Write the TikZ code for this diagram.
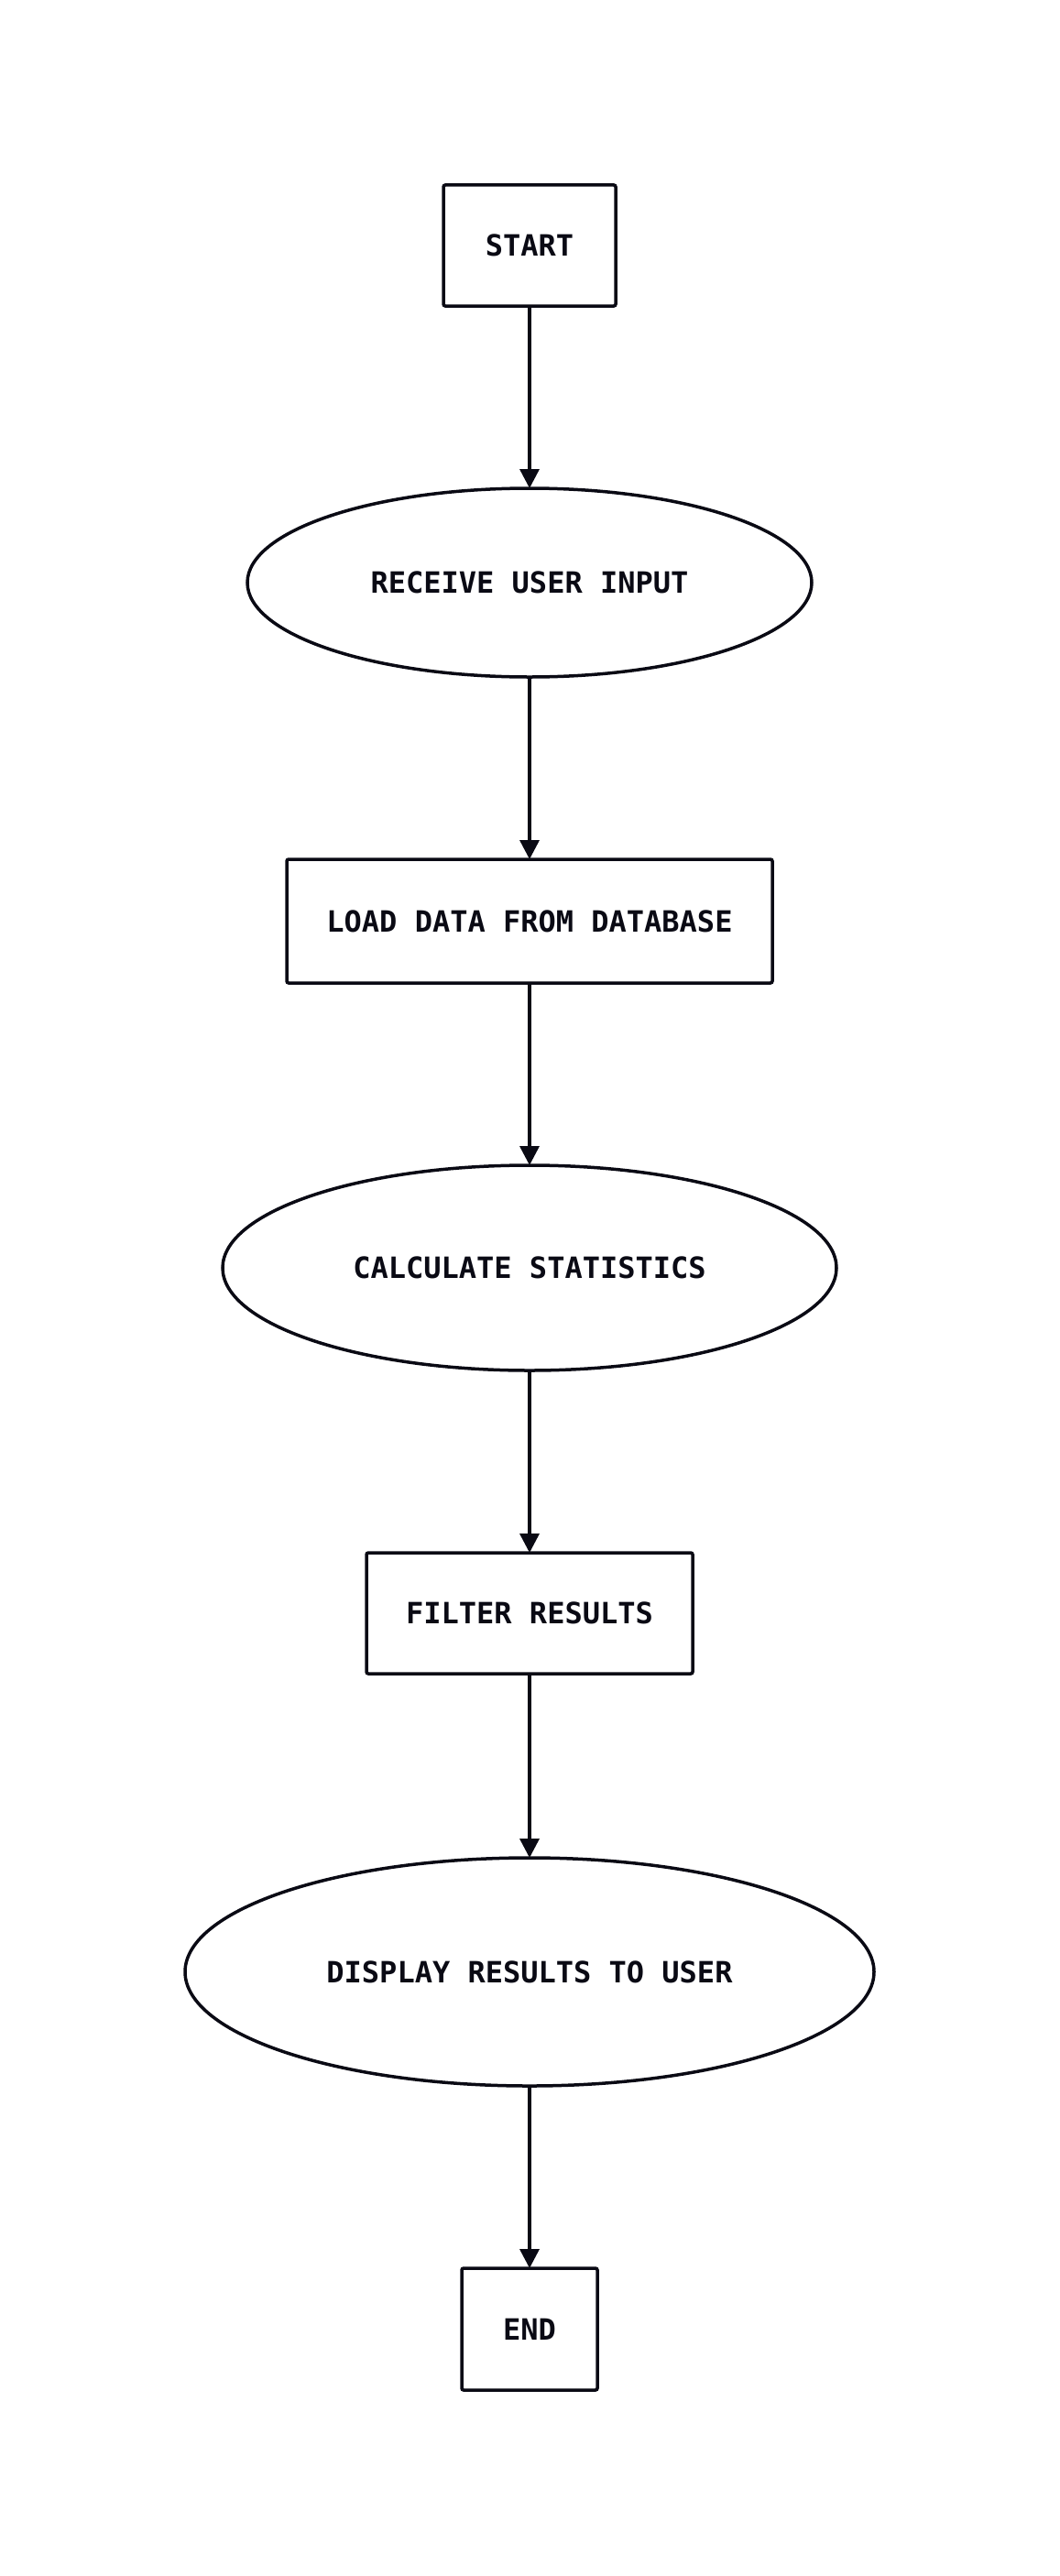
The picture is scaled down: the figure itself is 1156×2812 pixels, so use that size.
\documentclass[tikz,border=0pt]{standalone}
\usepackage{fontspec}
\newfontfamily\flowfont{DejaVu Sans Mono}
\usetikzlibrary{shapes.geometric,arrows.meta}
\definecolor{ink}{HTML}{0A0A14}
\tikzset{
  base/.style={draw=ink, line width=3.5pt, inner sep=0pt, outer sep=0pt, text=ink,
    font=\flowfont\bfseries\fontsize{32}{36}\selectfont},
  boxnode/.style={base, rectangle, rounded corners=2pt},
  ovalnode/.style={base, ellipse},
  flow/.style={draw=ink, line width=3.5pt, -{Triangle[length=21pt,width=21pt]}}
}
\begin{document}
\begin{tikzpicture}[x=1pt,y=-1pt]
\useasboundingbox (0,0) rectangle (1156,2812);
\node[boxnode, minimum width=188pt, minimum height=132pt] (start) at (578,268) {START};
\node[ovalnode, minimum width=616pt, minimum height=206pt] (recv) at (578,636) {RECEIVE USER INPUT};
\node[boxnode, minimum width=530pt, minimum height=135pt] (load) at (578,1005.5) {LOAD DATA FROM DATABASE};
\node[ovalnode, minimum width=670pt, minimum height=224pt] (calc) at (578,1384) {CALCULATE STATISTICS};
\node[boxnode, minimum width=356pt, minimum height=132pt] (filt) at (578,1761) {FILTER RESULTS};
\node[ovalnode, minimum width=752pt, minimum height=249pt] (disp) at (578,2152.5) {DISPLAY RESULTS TO USER};
\node[boxnode, minimum width=148pt, minimum height=133pt] (end) at (578,2542.5) {END};
\draw[flow] (start) -- (recv);
\draw[flow] (recv) -- (load);
\draw[flow] (load) -- (calc);
\draw[flow] (calc) -- (filt);
\draw[flow] (filt) -- (disp);
\draw[flow] (disp) -- (end);
\end{tikzpicture}
\end{document}
